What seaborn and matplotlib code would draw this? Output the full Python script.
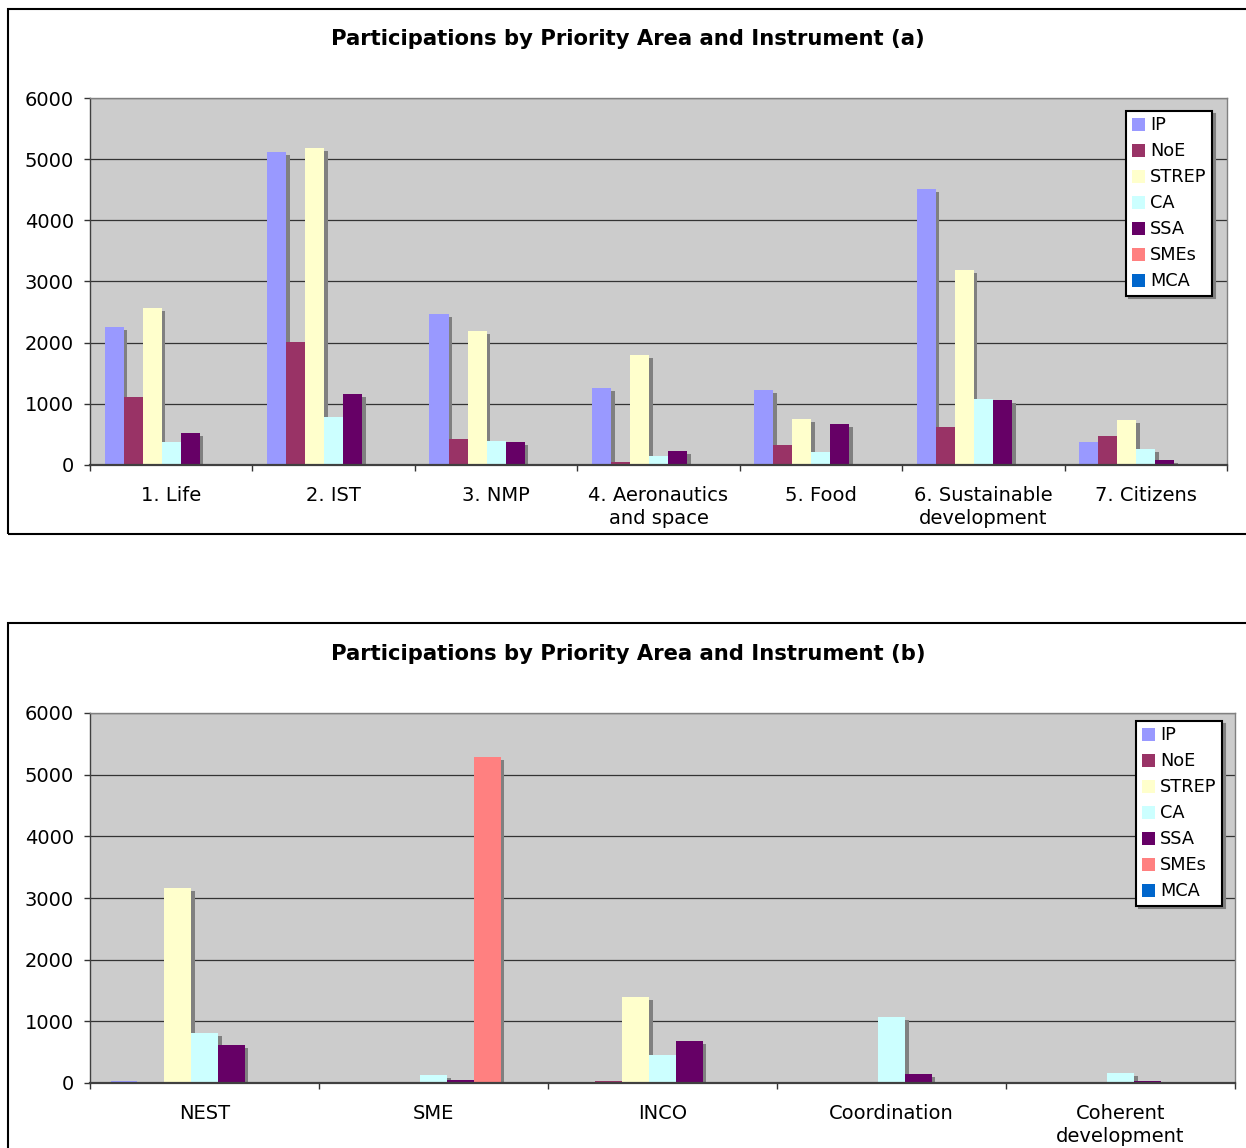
import numpy as np
import pandas as pd
import matplotlib
matplotlib.use("Agg")
import matplotlib.pyplot as plt
import matplotlib.patheffects as pe
from matplotlib.patches import Rectangle
import seaborn as sns

# Instruments and their classic palette
instruments = ["IP", "NoE", "STREP", "CA", "SSA", "SMEs", "MCA"]
colors = ["#9999FF", "#993366", "#FFFFCC", "#CCFFFF", "#660066", "#FF8080", "#0066CC"]

# Panel (a): thematic priorities 1-7
areas_a = ["1. Life", "2. IST", "3. NMP", "4. Aeronautics\nand space", "5. Food",
           "6. Sustainable\ndevelopment", "7. Citizens"]
ip_a = [2250, 5120, 2470, 1260, 1230, 4510, 380]
noe_a = [1110, 2010, 425, 50, 330, 620, 475]
strep_a = [2570, 5190, 2190, 1800, 750, 3190, 740]
ca_a = [380, 790, 390, 150, 210, 1080, 260]
ssa_a = [520, 1160, 380, 230, 670, 1060, 85]
smes_a = [0, 0, 0, 0, 0, 0, 0]
mca_a = [0, 0, 0, 0, 0, 0, 0]

# Panel (b): horizontal activities
areas_b = ["NEST", "SME", "INCO", "Coordination", "Coherent\ndevelopment"]
ip_b = [30, 0, 0, 0, 0]
noe_b = [0, 0, 30, 0, 0]
strep_b = [3160, 0, 1390, 0, 0]
ca_b = [810, 130, 455, 1070, 160]
ssa_b = [615, 50, 680, 145, 30]
smes_b = [0, 5290, 0, 0, 0]
mca_b = [0, 0, 0, 0, 0]

yticks = [0, 1000, 2000, 3000, 4000, 5000, 6000]


def long_table(areas, series):
    rows = []
    for inst, vals in zip(instruments, series):
        for area, v in zip(areas, vals):
            rows.append({"area": area, "instrument": inst, "value": v})
    return pd.DataFrame(rows)


df_a = long_table(areas_a, [ip_a, noe_a, strep_a, ca_a, ssa_a, smes_a, mca_a])
df_b = long_table(areas_b, [ip_b, noe_b, strep_b, ca_b, ssa_b, smes_b, mca_b])

sns.set_theme(style="white")
plt.rcParams["font.family"] = ["DejaVu Sans"]
plt.rcParams["text.color"] = "black"

W, H = 1246, 1148
fig = plt.figure(figsize=(W / 100, H / 100), dpi=100)
fig.patch.set_facecolor("white")


def fx(px):
    return px / W


def fy(py):
    return 1 - py / H


def panel(df, areas, box, title, title_y, legend_anchor):
    left, top, right, bottom = box
    ax = fig.add_axes([fx(left), fy(bottom), fx(right) - fx(left), fy(top) - fy(bottom)])
    sns.barplot(data=df, x="area", y="value", hue="instrument", order=areas,
                hue_order=instruments, palette=colors, width=0.82, saturation=1,
                linewidth=0, errorbar=None, ax=ax, legend=True)
    # drop shadow behind each bar
    for cont in ax.containers:
        for bar in cont:
            bar.set_path_effects([
                pe.SimplePatchShadow(offset=(2.6, -2.2), shadow_rgbFace="#808080", alpha=1.0),
                pe.Normal()])
    ax.set_facecolor("#CCCCCC")
    ax.set_axisbelow(True)
    ax.set_ylim(0, 6000)
    ax.set_xlim(-0.5, len(areas) - 0.5)
    ax.set_yticks(yticks)
    ax.set_yticklabels([str(v) for v in yticks], fontsize=14, color="black")
    ax.yaxis.grid(True, color="#333333", linewidth=0.9)
    ax.xaxis.grid(False)
    ax.set_xticks(range(len(areas)))
    ax.set_xticklabels(areas, fontsize=14, color="black", linespacing=1.3)
    ax.set_xticks(np.arange(-0.5, len(areas), 1), minor=True)
    ax.tick_params(axis="x", which="major", length=0, pad=15)
    ax.tick_params(axis="x", which="minor", length=4.5, width=1, color="#333333",
                   direction="out", bottom=True)
    ax.tick_params(axis="y", length=4.5, width=1, color="#333333", direction="out",
                   pad=7, left=True)
    ax.set_xlabel("")
    ax.set_ylabel("")
    for side in ("top", "right"):
        ax.spines[side].set_color("#808080")
        ax.spines[side].set_linewidth(1.0)
    ax.spines["left"].set_color("#404040")
    ax.spines["left"].set_linewidth(1.0)
    ax.spines["bottom"].set_color("#404040")
    ax.spines["bottom"].set_linewidth(1.6)
    ax.spines["bottom"].set_zorder(5)

    handles, labels = ax.get_legend_handles_labels()
    leg = ax.legend(handles, labels, loc="upper right", bbox_to_anchor=legend_anchor,
                    borderaxespad=0, fontsize=12.8, frameon=True, fancybox=False,
                    edgecolor="black", facecolor="white", framealpha=1,
                    shadow={"color": "#808080", "alpha": 1},
                    handlelength=0.75, handleheight=0.75, handletextpad=0.3,
                    labelspacing=0.45, borderpad=0.3)
    leg.get_frame().set_linewidth(1.5)
    for t in leg.get_texts():
        t.set_color("black")

    fig.text(fx(628), fy(title_y), title, ha="center", va="center",
             fontsize=15.2, fontweight="bold", color="black")
    return ax


panel(df_a, areas_a, (90, 98, 1227, 465),
      "Participations by Priority Area and Instrument (a)", 39,
      (1 - 15 / 1137, 1 - 13 / 367))
panel(df_b, areas_b, (90, 713, 1235, 1083),
      "Participations by Priority Area and Instrument (b)", 654,
      (1 - 13 / 1145, 1 - 8 / 370))

# chart frames
fig.add_artist(Rectangle((fx(8), fy(534)), fx(1300) - fx(8), fy(9) - fy(534),
                         transform=fig.transFigure, fill=False, edgecolor="black",
                         linewidth=1.5))
fig.add_artist(Rectangle((fx(8), fy(1200)), fx(1300) - fx(8), fy(623) - fy(1200),
                         transform=fig.transFigure, fill=False, edgecolor="black",
                         linewidth=1.5))

fig.savefig("out.png", dpi=100, facecolor="white")
